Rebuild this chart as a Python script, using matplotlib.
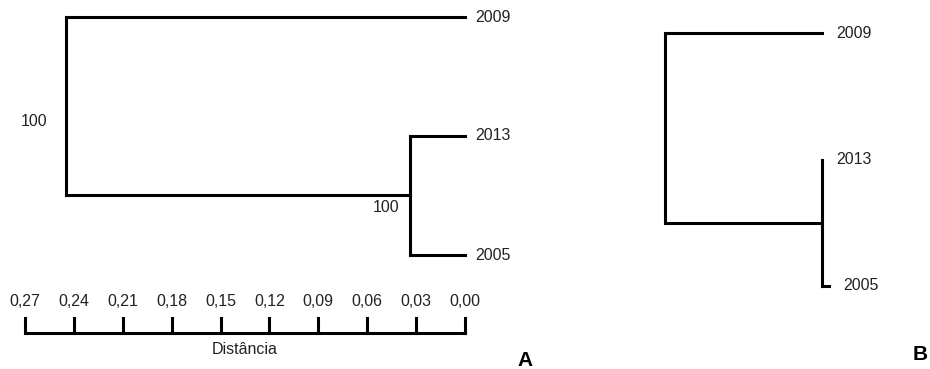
import numpy as np
import matplotlib
matplotlib.use("Agg")
import matplotlib.pyplot as plt

plt.rcParams['font.family'] = ['Liberation Sans', 'DejaVu Sans']

# panel A: UPGMA-like tree, node heights in distance units
leaves_a = ['2009', '2013', '2005']
inner_height_a = 0.034      # node joining 2013 and 2005
root_height_a = 0.245       # root
support_root_a = '100'
support_inner_a = '100'
scale_ticks = [0.27, 0.24, 0.21, 0.18, 0.15, 0.12, 0.09, 0.06, 0.03, 0.00]
scale_title = 'Distância'

# panel B: branch lengths from the root (arbitrary units)
leaves_b = ['2009', '2013', '2005']
br_root_2009 = 1.0
br_root_inner = 1.0
br_inner_2013 = 0.0
br_inner_2005 = 0.045

lw = 2.2
fs = 11.5
col = 'black'
txtcol = '#222222'

fig = plt.figure(figsize=(9.3, 3.69), dpi=100)

# ---------------- panel A ----------------
axA = fig.add_axes([0, 0, 560/930, 1])
axA.set_xlim(465/1630, -95/1630)
axA.set_ylim((369-17)/119, -17/119)
axA.axis('off')

ya = np.arange(len(leaves_a))
y_inner = ya[1:].mean()
# root vertical + top branch
axA.plot([root_height_a, root_height_a], [ya[0], y_inner], color=col, lw=lw, solid_capstyle='projecting')
axA.plot([root_height_a, 0], [ya[0], ya[0]], color=col, lw=lw)
axA.plot([root_height_a, inner_height_a], [y_inner, y_inner], color=col, lw=lw)
axA.plot([inner_height_a, inner_height_a], [ya[1], ya[2]], color=col, lw=lw, solid_capstyle='projecting')
for y in ya[1:]:
    axA.plot([inner_height_a, 0], [y, y], color=col, lw=lw)
for name, y in zip(leaves_a, ya):
    axA.annotate(name, (0, y), xytext=(10, 0), textcoords='offset pixels',
                 ha='left', va='center', fontsize=fs, color=txtcol)
axA.annotate(support_root_a, (root_height_a, (ya[0] + y_inner) / 2), xytext=(-18, -15),
             textcoords='offset pixels', ha='right', va='center', fontsize=fs, color=txtcol)
axA.annotate(support_inner_a, (inner_height_a, y_inner), xytext=(-10, -12),
             textcoords='offset pixels', ha='right', va='center', fontsize=fs, color=txtcol)

# scale bar
y_bar = (333-17)/119
y_tick = (318-17)/119
y_lab = (302-17)/119
axA.plot([max(scale_ticks), min(scale_ticks)], [y_bar, y_bar], color=col, lw=lw, solid_capstyle='projecting')
for t in scale_ticks:
    axA.plot([t, t], [y_bar, y_tick], color=col, lw=lw, solid_capstyle='projecting')
    axA.text(t, y_lab, ('%.2f' % t).replace('.', ','), ha='center', va='center',
             fontsize=fs, color=txtcol)
axA.text(np.mean([max(scale_ticks), min(scale_ticks)]), (350-17)/119, scale_title,
         ha='center', va='center', fontsize=fs, color=txtcol)

fig.text(525/930, 1 - 361/369, 'A', ha='center', va='center', fontsize=15, fontweight='bold')

# ---------------- panel B ----------------
axB = fig.add_axes([640/930, 0, 290/930, 1])
axB.set_xlim(-25/157, 265/157)
axB.set_ylim((369-33)/126.5, -33/126.5)
axB.axis('off')

yb = np.arange(len(leaves_b))
yb_inner = yb[1:].mean()
x_inner = br_root_inner
axB.plot([0, 0], [yb[0], yb_inner], color=col, lw=lw, solid_capstyle='projecting')
axB.plot([0, br_root_2009], [yb[0], yb[0]], color=col, lw=lw)
axB.plot([0, x_inner], [yb_inner, yb_inner], color=col, lw=lw)
axB.plot([x_inner, x_inner], [yb[1], yb[2]], color=col, lw=lw, solid_capstyle='projecting')
axB.plot([x_inner, x_inner + br_inner_2013], [yb[1], yb[1]], color=col, lw=lw)
axB.plot([x_inner, x_inner + br_inner_2005], [yb[2], yb[2]], color=col, lw=lw)
tips_b = [br_root_2009, x_inner + br_inner_2013, x_inner + br_inner_2005]
for name, x, y in zip(leaves_b, tips_b, yb):
    axB.annotate(name, (x, y), xytext=(14, 0), textcoords='offset pixels',
                 ha='left', va='center', fontsize=fs, color=txtcol)

fig.text(920/930, 1 - 355/369, 'B', ha='center', va='center', fontsize=15, fontweight='bold')

fig.savefig('out.png', dpi=100)
